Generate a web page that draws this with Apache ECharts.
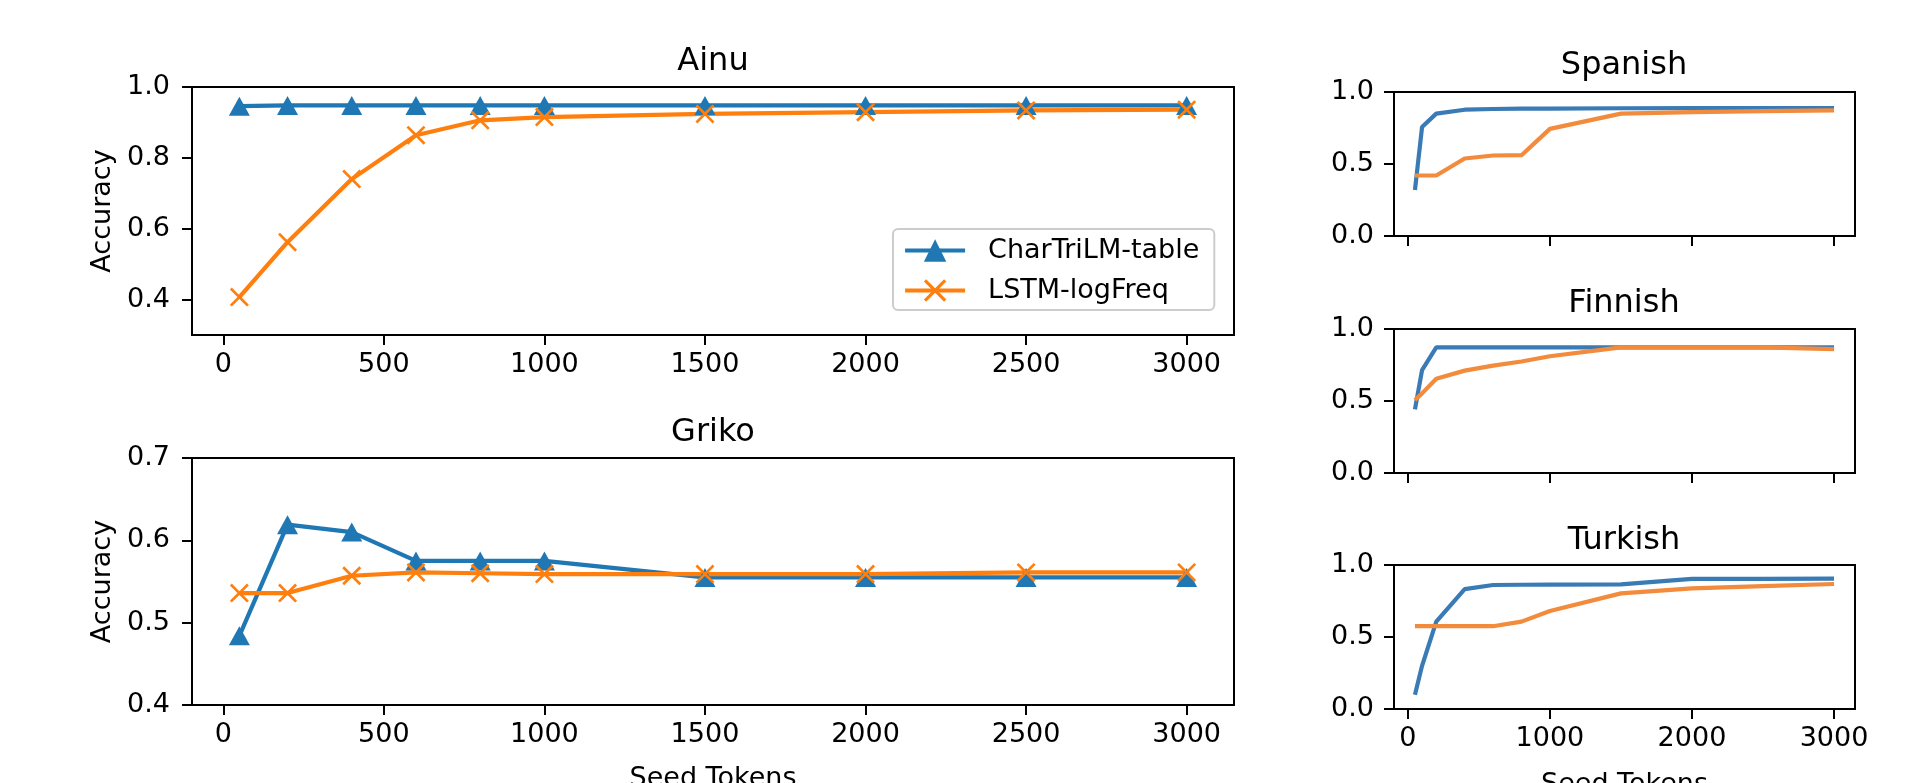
<!DOCTYPE html>
<html>
<head>
<meta charset="utf-8">
<title>Seed tokens vs accuracy</title>
<script src="https://cdn.jsdelivr.net/npm/echarts@6/dist/echarts.min.js"></script>
<style>
  html, body { margin: 0; padding: 0; background: #fff; }
  #main { width: 1918px; height: 783px; }
</style>
</head>
<body>
<div id="main"></div>
<script>
// seed token counts
var leftTokens = [50, 200, 400, 600, 800, 1000, 1500, 2000, 2500, 3000];
var rightTokens = [50, 100, 200, 400, 600, 800, 1000, 1500, 2000, 2500, 3000];

// Ainu / Griko (markers)
var ainuTable = [0.946, 0.948, 0.948, 0.948, 0.948, 0.948, 0.948, 0.948, 0.948, 0.948];
var ainuLstm = [0.407, 0.562, 0.740, 0.864, 0.906, 0.915, 0.924, 0.929, 0.934, 0.936];
var grikoTable = [0.484, 0.619, 0.610, 0.575, 0.575, 0.575, 0.555, 0.555, 0.555, 0.555];
var grikoLstm = [0.536, 0.536, 0.557, 0.561, 0.560, 0.559, 0.559, 0.559, 0.561, 0.561];

// Spanish / Finnish / Turkish (lines only)
var spanishTable = [0.32, 0.757, 0.850, 0.877, 0.882, 0.884, 0.885, 0.887, 0.888, 0.888, 0.889];
var spanishLstm = [0.42, 0.42, 0.42, 0.538, 0.559, 0.561, 0.744, 0.850, 0.860, 0.867, 0.873];
var finnishTable = [0.442, 0.714, 0.872, 0.872, 0.872, 0.872, 0.872, 0.872, 0.872, 0.872, 0.872];
var finnishLstm = [0.507, 0.553, 0.655, 0.711, 0.746, 0.774, 0.811, 0.872, 0.872, 0.872, 0.860];
var turkishTable = [0.099, 0.30, 0.607, 0.832, 0.861, 0.863, 0.864, 0.865, 0.903, 0.903, 0.906];
var turkishLstm = [0.575, 0.575, 0.575, 0.575, 0.575, 0.607, 0.681, 0.803, 0.838, 0.853, 0.868];

// ticks
var leftXTicks = [0, 500, 1000, 1500, 2000, 2500, 3000];
var rightXTicks = [0, 1000, 2000, 3000];
var ainuYTicks = [0.4, 0.6, 0.8, 1.0];
var grikoYTicks = [0.4, 0.5, 0.6, 0.7];
var rightYTicks = [0.0, 0.5, 1.0];

var FONT = '"DejaVu Sans", sans-serif';
var BLUE = '#1f77b4', ORANGE = '#ff7f0e';
var BLUE2 = '#3a7bb6', ORANGE2 = '#f28b3c';
var XMARK = 'path://M0,0.1L0.1,0L0.5,0.4L0.9,0L1,0.1L0.6,0.5L1,0.9L0.9,1L0.5,0.6L0.1,1L0,0.9L0.4,0.5Z';
var EPS = 1e-6; // keeps the end ticks inside the axis extent

function pairs(xs, ys) {
  return xs.map(function (x, i) { return [x, ys[i]]; });
}

function xAxis(idx, ticks, showLabels, name, gap) {
  return {
    type: 'value', gridIndex: idx, min: -97.5, max: 3147.5,
    axisLine: { show: true, onZero: false, lineStyle: { color: '#000', width: 2 } },
    axisTick: { show: true, customValues: ticks, length: 10, lineStyle: { color: '#000', width: 2 } },
    axisLabel: {
      show: showLabels, customValues: ticks, margin: 16, color: '#000', fontSize: 27, fontFamily: FONT,
      formatter: function (v) { return String(v); }
    },
    splitLine: { show: false },
    name: name || '', nameLocation: 'middle', nameGap: gap || 54,
    nameTextStyle: { color: '#000', fontSize: 27, fontFamily: FONT }
  };
}

function yAxis(idx, min, max, ticks, name, margin) {
  return {
    type: 'value', gridIndex: idx, min: min - EPS, max: max + EPS,
    axisLine: { show: true, onZero: false, lineStyle: { color: '#000', width: 2 } },
    axisTick: { show: true, customValues: ticks, length: 10, lineStyle: { color: '#000', width: 2 } },
    axisLabel: {
      customValues: ticks, margin: margin, color: '#000', fontSize: 27, fontFamily: FONT,
      formatter: function (v) { return v.toFixed(1); }
    },
    splitLine: { show: false },
    name: name || '', nameLocation: 'middle', nameGap: 76, nameRotate: 90,
    nameTextStyle: { color: '#000', fontSize: 27, fontFamily: FONT }
  };
}

function gridBox(left, top, width, height) {
  return { left: left, top: top, width: width, height: height, show: true,
    outerBoundsMode: 'none', containLabel: false,
    borderColor: '#000', borderWidth: 2, backgroundColor: 'transparent' };
}

function markLine(name, idx, xs, ys, color, symbol, size) {
  return {
    name: name, type: 'line', xAxisIndex: idx, yAxisIndex: idx,
    data: pairs(xs, ys), symbol: symbol, symbolSize: size, showSymbol: true,
    lineStyle: { color: color, width: 4.2 }, itemStyle: { color: color },
    animation: false, z: 3
  };
}

function plainLine(name, idx, ys, color) {
  return {
    name: name, type: 'line', xAxisIndex: idx, yAxisIndex: idx,
    data: pairs(rightTokens, ys), symbol: 'none',
    lineStyle: { color: color, width: 4.2 }, animation: false
  };
}

function titleText(text, x, y) {
  return { type: 'text', x: x, y: y, silent: true,
    style: { text: text, fill: '#000', font: '32px ' + FONT, align: 'center', verticalAlign: 'middle' } };
}

var myChart = echarts.init(document.getElementById('main'));
myChart.setOption({
  backgroundColor: '#fff',
  animation: false,
  grid: [
    gridBox(192, 87, 1042, 248),
    gridBox(192, 458, 1042, 247),
    gridBox(1394, 92, 461, 144),
    gridBox(1394, 329, 461, 144),
    gridBox(1394, 565, 461, 144)
  ],
  xAxis: [
    xAxis(0, leftXTicks, true),
    xAxis(1, leftXTicks, true, 'Seed Tokens', 60),
    xAxis(2, rightXTicks, false),
    xAxis(3, rightXTicks, false),
    xAxis(4, rightXTicks, true, 'Seed Tokens', 62)
  ],
  yAxis: [
    yAxis(0, 0.3, 1.0, ainuYTicks, 'Accuracy', 22),
    yAxis(1, 0.4, 0.7, grikoYTicks, 'Accuracy', 22),
    yAxis(2, 0, 1, rightYTicks, '', 20),
    yAxis(3, 0, 1, rightYTicks, '', 20),
    yAxis(4, 0, 1, rightYTicks, '', 20)
  ],
  legend: {
    left: 893, top: 229, orient: 'vertical',
    data: ['CharTriLM-table', 'LSTM-logFreq'],
    itemWidth: 60, itemHeight: 28, itemGap: 13,
    padding: [8, 15, 6, 10],
    lineStyle: { width: 4.2 },
    backgroundColor: '#fff', borderColor: '#cccccc', borderWidth: 2, borderRadius: 5,
    textStyle: { color: '#000', fontSize: 27, fontFamily: FONT, padding: [0, 0, 0, 18] },
    selectedMode: false, z: 10
  },
  graphic: [
    titleText('Ainu', 713, 62),
    titleText('Griko', 713, 433),
    titleText('Spanish', 1624, 66),
    titleText('Finnish', 1624, 304),
    titleText('Turkish', 1624, 541)
  ],
  series: [
    markLine('CharTriLM-table', 0, leftTokens, ainuTable, BLUE, 'triangle', [21, 19]),
    markLine('LSTM-logFreq', 0, leftTokens, ainuLstm, ORANGE, XMARK, 19),
    markLine('Griko CharTriLM-table', 1, leftTokens, grikoTable, BLUE, 'triangle', [21, 19]),
    markLine('Griko LSTM-logFreq', 1, leftTokens, grikoLstm, ORANGE, XMARK, 19),
    plainLine('Spanish CharTriLM-table', 2, spanishTable, BLUE2),
    plainLine('Spanish LSTM-logFreq', 2, spanishLstm, ORANGE2),
    plainLine('Finnish CharTriLM-table', 3, finnishTable, BLUE2),
    plainLine('Finnish LSTM-logFreq', 3, finnishLstm, ORANGE2),
    plainLine('Turkish CharTriLM-table', 4, turkishTable, BLUE2),
    plainLine('Turkish LSTM-logFreq', 4, turkishLstm, ORANGE2)
  ]
});
</script>
</body>
</html>
